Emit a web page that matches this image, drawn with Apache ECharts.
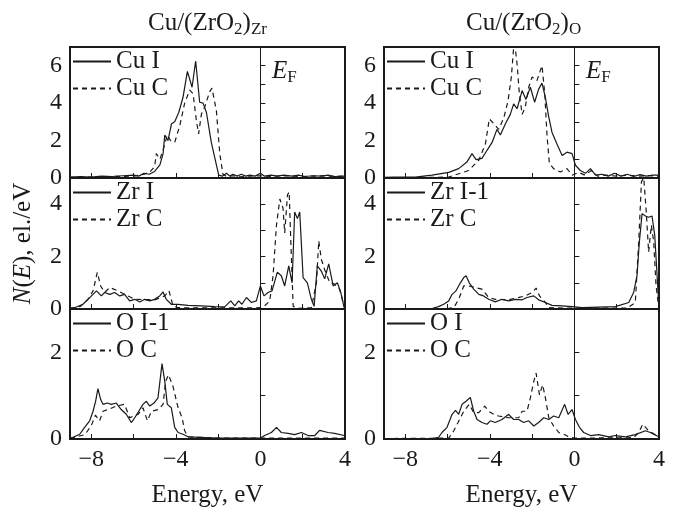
<!DOCTYPE html>
<html>
<head>
<meta charset="utf-8">
<script src="https://cdn.jsdelivr.net/npm/echarts@6/dist/echarts.min.js"></script>
<style>
  html, body { margin: 0; padding: 0; background: #fff; }
  #chart { width: 676px; height: 509px; }
</style>
</head>
<body>
<div id="chart"></div>
<script>
// energy ticks / labels, eV
const energyTicks = [-8, -6, -4, -2, 0, 2, 4];
const energyLabels = [-8, -4, 0, 4];
// y range of each row (Cu, Zr, O)
const rowMax = [7, 5, 3];

// Cu/(ZrO2)Zr  -- [E, N(E)]
const cuI_Zr = [[-9,0.05],[-8.5,0.08],[-8,0.05],[-7.5,0.1],[-7,0.08],[-6.5,0.12],[-6,0.15],[-5.75,0.1],[-5.5,0.25],[-5.25,0.2],[-5,0.35],[-4.75,0.7],[-4.6,1.3],[-4.52,2.3],[-4.37,2.0],[-4.2,2.9],[-4.05,3.0],[-3.86,3.5],[-3.66,4.3],[-3.45,5.7],[-3.23,4.85],[-3.06,6.25],[-2.87,4.05],[-2.71,4.0],[-2.55,3.5],[-2.32,1.9],[-2.16,1.1],[-1.97,0.15],[-1.8,0.1],[-1.6,0.25],[-1.45,0.1],[-1.3,0.2],[-1.1,0.1],[-0.9,0.2],[-0.7,0.1],[-0.5,0.15],[-0.25,0.1],[0,0.25],[0.2,0.1],[0.5,0.15],[0.8,0.1],[1.1,0.15],[1.5,0.1],[1.8,0.15],[2.1,0.08],[2.5,0.12],[2.9,0.1],[3.2,0.15],[3.5,0.08],[4,0.1]];
const cuC_Zr = [[-9,0.03],[-8,0.05],[-7,0.08],[-6,0.1],[-5.5,0.2],[-5.2,0.35],[-5,0.6],[-4.92,1.3],[-4.75,1.0],[-4.6,1.5],[-4.4,2.3],[-4.25,2.0],[-4.05,1.9],[-3.81,2.8],[-3.58,4.0],[-3.34,4.7],[-3.18,4.5],[-3.03,3.1],[-2.92,2.35],[-2.79,3.4],[-2.63,3.8],[-2.4,4.6],[-2.29,4.8],[-2.08,3.6],[-1.92,1.3],[-1.77,0.2],[-1.6,0.08],[-1.3,0.12],[-1,0.06],[-0.5,0.1],[0,0.12],[0.5,0.08],[1,0.12],[1.5,0.1],[2,0.08],[2.5,0.1],[3,0.12],[3.5,0.08],[4,0.1]];
const zrI_Zr = [[-9,0.03],[-8.78,0.05],[-8.39,0.18],[-8.15,0.37],[-7.91,0.56],[-7.75,0.69],[-7.52,0.5],[-7.36,0.63],[-7.12,0.56],[-6.89,0.63],[-6.65,0.5],[-6.42,0.56],[-6.18,0.31],[-5.94,0.37],[-5.7,0.27],[-5.47,0.37],[-5.23,0.31],[-5.0,0.37],[-4.76,0.5],[-4.6,0.65],[-4.45,0.37],[-4.21,0.18],[-3.89,0.18],[-3.42,0.14],[-2.79,0.12],[-2.16,0.09],[-1.69,0.08],[-1.4,0.31],[-1.21,0.12],[-1.03,0.31],[-0.87,0.18],[-0.66,0.44],[-0.43,0.25],[-0.19,0.31],[0,0.88],[0.17,0.5],[0.36,0.63],[0.55,0.69],[0.8,1.4],[0.99,1.27],[1.15,0.88],[1.34,1.65],[1.5,1.0],[1.62,3.7],[1.75,3.45],[1.86,3.7],[2.02,1.2],[2.22,1.0],[2.41,0.37],[2.54,0.1],[2.69,1.65],[2.88,1.45],[3.04,1.15],[3.23,1.72],[3.44,0.88],[3.64,1.0],[3.8,0.63],[3.96,0.05]];
const zrC_Zr = [[-9,0.02],[-8.5,0.1],[-8.15,0.37],[-7.91,0.69],[-7.71,1.4],[-7.55,0.88],[-7.36,0.63],[-7.12,0.82],[-6.73,0.69],[-6.26,0.5],[-5.94,0.37],[-5.0,0.35],[-4.52,0.5],[-4.32,0.7],[-4.13,0.12],[-3.89,0.05],[-3,0.04],[-2,0.04],[-1,0.04],[0,0.05],[0.2,0.12],[0.44,0.3],[0.6,1.27],[0.76,3.2],[0.92,4.2],[1.07,3.85],[1.15,2.9],[1.28,4.35],[1.36,4.47],[1.44,2.55],[1.55,0.1],[1.78,0.02],[2.41,0.05],[2.65,1.0],[2.76,2.6],[2.88,1.9],[3.04,1.5],[3.28,1.0],[3.51,0.95],[3.75,0.75],[3.96,0.1]];
const oI1_Zr = [[-9,0.02],[-8.86,0.04],[-8.54,0.11],[-8.31,0.27],[-8.07,0.42],[-7.91,0.64],[-7.79,0.87],[-7.68,1.16],[-7.55,0.91],[-7.44,0.8],[-7.23,0.83],[-7.05,0.8],[-6.81,0.83],[-6.58,0.68],[-6.34,0.57],[-6.1,0.38],[-5.94,0.49],[-5.75,0.64],[-5.55,0.8],[-5.39,0.87],[-5.23,0.76],[-5.03,0.83],[-4.84,0.95],[-4.65,1.74],[-4.52,1.33],[-4.4,0.8],[-4.21,0.72],[-4.05,0.27],[-3.89,0.15],[-3.66,0.11],[-3.42,0.05],[-2,0.02],[0,0.02],[0.2,0.08],[0.52,0.15],[0.76,0.27],[0.99,0.15],[1.31,0.13],[1.62,0.1],[1.94,0.15],[2.25,0.08],[2.57,0.08],[2.8,0.2],[3.2,0.15],[3.51,0.13],[3.96,0.08]];
const oC_Zr = [[-9,0.01],[-8.3,0.1],[-8.0,0.3],[-7.8,0.55],[-7.6,0.42],[-7.44,0.64],[-7.2,0.68],[-6.81,0.76],[-6.42,0.8],[-6.18,0.49],[-5.78,0.57],[-5.55,0.72],[-5.34,0.42],[-5.15,0.64],[-4.84,0.68],[-4.6,0.8],[-4.48,1.33],[-4.34,1.48],[-4.13,1.21],[-3.89,0.72],[-3.7,0.49],[-3.58,0.19],[-3.42,0.05],[-2,0.02],[4,0.02]];

// Cu/(ZrO2)O
const cuI_O = [[-9,0.03],[-8.5,0.05],[-7.52,0.05],[-6.73,0.15],[-5.94,0.3],[-5.47,0.5],[-5.08,0.85],[-4.84,1.3],[-4.65,0.98],[-4.37,1.05],[-4.13,1.48],[-3.89,1.9],[-3.66,2.6],[-3.5,2.3],[-3.26,2.9],[-3.03,3.4],[-2.87,3.96],[-2.71,3.7],[-2.47,4.67],[-2.29,4.2],[-2.08,4.85],[-1.88,4.05],[-1.69,4.75],[-1.53,5.07],[-1.37,4.3],[-1.21,3.25],[-1.06,2.45],[-0.82,1.8],[-0.58,1.2],[-0.35,1.38],[-0.11,1.3],[0.05,0.68],[0.28,0.4],[0.52,0.25],[0.76,0.5],[1.0,0.15],[1.3,0.2],[1.6,0.1],[1.9,0.25],[2.2,0.1],[2.5,0.2],[2.8,0.08],[3.1,0.18],[3.4,0.1],[3.7,0.15],[4,0.15]];
const cuC_O = [[-9,0.02],[-7,0.03],[-5.94,0.05],[-5.0,0.4],[-4.52,0.95],[-4.21,1.8],[-4.02,3.16],[-3.81,2.9],[-3.58,2.6],[-3.34,3.2],[-3.14,4.1],[-2.98,5.4],[-2.84,7.4],[-2.71,6.1],[-2.6,4.5],[-2.47,3.4],[-2.32,3.8],[-2.16,4.85],[-2.0,5.4],[-1.77,5.2],[-1.61,5.75],[-1.53,6.0],[-1.4,4.5],[-1.29,2.2],[-1.18,0.77],[-0.98,0.5],[-0.66,0.32],[-0.35,0.5],[-0.11,0.15],[0.2,0.3],[0.5,0.15],[0.8,0.4],[1.1,0.1],[1.5,0.15],[2,0.1],[2.5,0.15],[3,0.1],[3.5,0.12],[4,0.1]];
const zrI1_O = [[-9,0.02],[-6.73,0.02],[-6.42,0.09],[-6.18,0.18],[-5.94,0.31],[-5.78,0.56],[-5.6,0.69],[-5.39,1.0],[-5.23,1.2],[-5.12,1.27],[-4.97,1.0],[-4.76,0.76],[-4.52,0.56],[-4.29,0.5],[-4.05,0.37],[-3.74,0.27],[-3.42,0.37],[-3.11,0.31],[-2.79,0.37],[-2.47,0.35],[-2.24,0.44],[-1.92,0.5],[-1.69,0.35],[-1.37,0.25],[-1.06,0.14],[-0.58,0.12],[-0.11,0.09],[0.36,0.05],[1.94,0.09],[2.57,0.25],[2.8,0.63],[2.96,1.27],[3.07,2.55],[3.2,3.64],[3.36,3.55],[3.51,3.5],[3.67,3.55],[3.8,2.8],[3.91,1.27],[4.0,0.05]];
const zrC_O = [[-9,0.02],[-6,0.02],[-5.7,0.05],[-5.47,0.37],[-5.23,0.88],[-5.0,0.88],[-4.68,0.82],[-4.37,0.76],[-4.05,0.44],[-3.74,0.37],[-3.11,0.35],[-2.32,0.5],[-2.0,0.63],[-1.81,0.8],[-1.65,0.5],[-1.37,0.25],[-1.21,0.05],[0,0.03],[2.5,0.03],[2.88,0.25],[3.04,2.55],[3.17,4.86],[3.28,5.0],[3.39,3.8],[3.51,2.17],[3.64,3.2],[3.75,2.55],[3.86,0.9],[3.99,0.05]];
const oI_O = [[-9,0.01],[-6.73,0.01],[-6.42,0.04],[-6.26,0.15],[-6.02,0.27],[-5.78,0.57],[-5.62,0.66],[-5.47,0.57],[-5.31,0.8],[-5.12,0.87],[-4.92,0.96],[-4.76,0.64],[-4.6,0.45],[-4.37,0.38],[-4.13,0.34],[-3.97,0.42],[-3.74,0.38],[-3.42,0.45],[-3.11,0.57],[-2.87,0.45],[-2.63,0.45],[-2.4,0.38],[-2.16,0.42],[-1.92,0.3],[-1.69,0.38],[-1.45,0.49],[-1.21,0.45],[-0.98,0.53],[-0.74,0.49],[-0.46,0.8],[-0.3,0.57],[-0.11,0.68],[0.05,0.45],[0.24,0.27],[0.44,0.15],[0.76,0.08],[1.15,0.1],[1.62,0.05],[1.94,0.08],[2.41,0.05],[2.88,0.1],[3.36,0.19],[3.59,0.15],[3.99,0.05]];
const oC_O = [[-9,0.01],[-5.94,0.02],[-5.7,0.19],[-5.5,0.38],[-5.23,0.64],[-4.97,0.8],[-4.76,0.61],[-4.52,0.61],[-4.24,0.76],[-4.05,0.64],[-3.81,0.57],[-3.58,0.53],[-3.11,0.49],[-2.63,0.49],[-2.47,0.64],[-2.24,0.64],[-2.08,0.95],[-1.92,1.33],[-1.81,1.52],[-1.65,1.02],[-1.5,1.25],[-1.37,0.95],[-1.21,0.49],[-0.98,0.3],[-0.74,0.15],[-0.5,0.11],[-0.27,0.05],[0,0.02],[2.8,0.03],[3.04,0.15],[3.23,0.34],[3.51,0.19],[3.99,0.05]];

const panels = [
  // col 0 (Zr-terminated), col 1 (O-terminated)
  [['Cu I', cuI_Zr, 'Cu C', cuC_Zr], ['Zr I', zrI_Zr, 'Zr C', zrC_Zr], ['O I-1', oI1_Zr, 'O C', oC_Zr]],
  [['Cu I', cuI_O, 'Cu C', cuC_O], ['Zr I-1', zrI1_O, 'Zr C', zrC_O], ['O I', oI_O, 'O C', oC_O]]
];

const colLeft = [70, 384];
const colWidth = 275;
const rowTop = [47, 178, 309];
const rowHeight = [131, 131, 132];
const serif = 'Liberation Serif';
const ink = '#1a1a1a';

function minusLabel(v) {
  return v < 0 ? '\u2212' + Math.abs(v) : String(v);
}

let grid = [], xAxis = [], yAxis = [], series = [], legend = [];
for (let c = 0; c < 2; c++) {
  for (let r = 0; r < 3; r++) {
    const gi = grid.length;
    const p = panels[c][r];
    grid.push({
      left: colLeft[c], top: rowTop[r], width: colWidth, height: rowHeight[r],
      show: true, borderColor: ink, borderWidth: 2, backgroundColor: 'transparent'
    });
    xAxis.push({
      type: 'value', gridIndex: gi, min: -9, max: 4,
      axisLine: { show: false },
      splitLine: { show: false },
      axisTick: { show: true, inside: true, length: 5, customValues: energyTicks, lineStyle: { color: ink, width: 1 } },
      axisLabel: {
        show: r === 2, customValues: energyLabels, formatter: minusLabel,
        fontFamily: serif, fontSize: 24, color: ink, margin: 9
      },
      name: r === 2 ? 'Energy, eV' : '',
      nameLocation: 'middle', nameGap: 44,
      nameTextStyle: { fontFamily: serif, fontSize: 25, color: ink }
    });
    const y = {
      type: 'value', gridIndex: gi, min: 0, max: rowMax[r], interval: 1,
      axisLine: { show: false },
      splitLine: { show: false },
      axisTick: { show: true, inside: true, length: 5, lineStyle: { color: ink, width: 1 } },
      axisLabel: {
        formatter: function (v) { return v % 2 === 0 ? String(v) : ''; },
        fontFamily: serif, fontSize: 24, color: ink, margin: 8
      }
    };
    if (c === 0 && r === 1) {
      y.name = '{i|N}{n|(}{i|E}{n|), el./eV}';
      y.nameLocation = 'middle';
      y.nameGap = 34;
      y.nameTextStyle = {
        rich: {
          i: { fontFamily: serif, fontSize: 25, fontStyle: 'italic', color: ink },
          n: { fontFamily: serif, fontSize: 25, color: ink }
        }
      };
    }
    yAxis.push(y);

    series.push({
      name: p[0], type: 'line', xAxisIndex: gi, yAxisIndex: gi, data: p[1],
      symbol: 'none', lineStyle: { color: ink, width: 1.2 }, itemStyle: { color: ink },
      markLine: {
        silent: true, symbol: ['none', 'none'], label: { show: false },
        lineStyle: { color: ink, width: 1, type: 'solid' },
        data: [{ xAxis: 0 }]
      }
    });
    series.push({
      name: p[2], type: 'line', xAxisIndex: gi, yAxisIndex: gi, data: p[3],
      symbol: 'none', lineStyle: { color: ink, width: 1.2, type: [5, 4] }, itemStyle: { color: ink }
    });
    legend.push({
      data: [p[0], p[2]], orient: 'vertical', left: colLeft[c] + 2, top: rowTop[r] + 2,
      itemWidth: 38, itemHeight: 14, itemGap: 2, padding: 0, selectedMode: false,
      itemStyle: { opacity: 0 },
      textStyle: { fontFamily: serif, fontSize: 25, color: ink }
    });
  }
}

const subRich = {
  n: { fontFamily: serif, fontSize: 25, fontWeight: 'normal', color: ink },
  i: { fontFamily: serif, fontSize: 25, fontWeight: 'normal', fontStyle: 'italic', color: ink },
  s: { fontFamily: serif, fontSize: 17, fontWeight: 'normal', color: ink, padding: [12, 0, 0, 0] }
};
const title = [
  { text: '{n|Cu/(ZrO}{s|2}{n|)}{s|Zr}', left: 143, top: 4, textStyle: { fontWeight: 'normal', rich: subRich } },
  { text: '{n|Cu/(ZrO}{s|2}{n|)}{s|O}', left: 461, top: 4, textStyle: { fontWeight: 'normal', rich: subRich } },
  { text: '{i|E}{s|F}', left: 267, top: 52, textStyle: { fontWeight: 'normal', rich: subRich } },
  { text: '{i|E}{s|F}', left: 581, top: 52, textStyle: { fontWeight: 'normal', rich: subRich } }
];

const chart = echarts.init(document.getElementById('chart'));
chart.setOption({
  backgroundColor: '#fff',
  animation: false,
  title: title,
  legend: legend,
  grid: grid,
  xAxis: xAxis,
  yAxis: yAxis,
  series: series
});
</script>
</body>
</html>
